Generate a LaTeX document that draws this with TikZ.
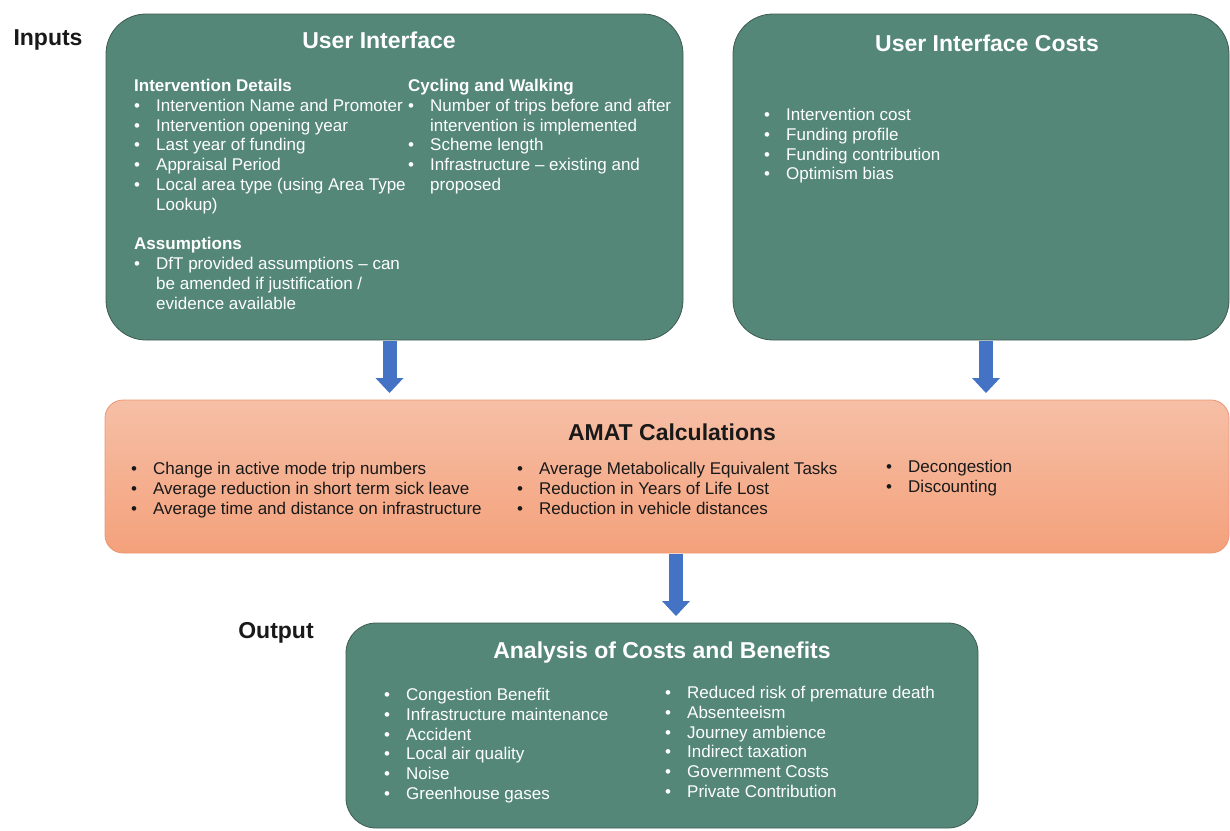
\documentclass[tikz,border=0pt]{standalone}
\usepackage{fontspec}
\setmainfont{Liberation Sans}
\usepackage{xcolor}
\usepackage{tikz}
\usetikzlibrary{arrows.meta}

\definecolor{boxgreen}{RGB}{84,135,119}
\definecolor{boxedge}{RGB}{62,92,82}
\definecolor{calctop}{RGB}{246,191,166}
\definecolor{calcbot}{RGB}{244,161,123}
\definecolor{calcedge}{RGB}{234,150,116}
\definecolor{flowblue}{RGB}{68,114,196}

\newcommand{\itm}[1]{\makebox[22pt][l]{\textbullet}#1}
\newcommand{\cnt}[1]{\hspace*{22pt}#1}

\begin{document}
\begin{tikzpicture}[x=1pt, y=-1pt,
  greenbox/.style={draw=boxedge, line width=0.8pt, fill=boxgreen, inner sep=0pt, outer sep=0pt},
  calcbox/.style={draw=calcedge, line width=0.8pt, top color=calctop, bottom color=calcbot,
    rounded corners=18pt, inner sep=0pt, outer sep=0pt},
  title/.style={font=\bfseries\fontsize{23}{27}\selectfont},
  label/.style={font=\bfseries\fontsize{23}{27}\selectfont, text=black!90},
  txt/.style={font=\fontsize{17}{19.8}\selectfont, align=left, inner sep=0pt, anchor=north west},
  flow/.style={draw=flowblue, line width=14pt, -{Triangle[width=28pt,length=15pt,line width=0pt]},
    shorten <=1pt, shorten >=7pt}]
  \useasboundingbox (0,0) rectangle (1230,830);

  \node[greenbox, rounded corners=40pt, minimum width=577pt, minimum height=326pt] (ui) at (394.5,177) {}; %
  \node[greenbox, rounded corners=40pt, minimum width=496pt, minimum height=326pt] (uicost) at (981,177) {}; %
  \node[calcbox, minimum width=1124pt, minimum height=153pt] (amat) at (667,476.5) {}; %
  \node[greenbox, rounded corners=30pt, minimum width=632pt, minimum height=205pt] (out) at (662,725.5) {}; %

  \node[label] (inputs) at (48,40) {Inputs}; %
  \node[label] (output) at (276,633) {Output}; %

  \node[title, text=white] (uititle) at (379,40) {User Interface}; %
  \node[title, text=white] (uicosttitle) at (987,43) {User Interface Costs}; %
  \node[title, text=black!90] (amattitle) at (672,432) {AMAT Calculations}; %
  \node[title, text=white] (outtitle) at (662,653) {Analysis of Costs and Benefits}; %

  \node[txt, text=white] (uidetails) at (134,79) {%
    \textbf{Intervention Details}\\
    \itm{Intervention Name and Promoter}\\
    \itm{Intervention opening year}\\
    \itm{Last year of funding}\\
    \itm{Appraisal Period}\\
    \itm{Local area type (using Area Type}\\
    \cnt{Lookup)}\\
    \mbox{}\\
    \textbf{Assumptions}\\
    \itm{DfT provided assumptions -- can}\\
    \cnt{be amended if justification /}\\
    \cnt{evidence available}}; %
  \node[txt, text=white] (uicycle) at (408,79) {%
    \textbf{Cycling and Walking}\\
    \itm{Number of trips before and after}\\
    \cnt{intervention is implemented}\\
    \itm{Scheme length}\\
    \itm{Infrastructure -- existing and}\\
    \cnt{proposed}}; %
  \node[txt, text=white] (uicostlist) at (764,108) {%
    \itm{Intervention cost}\\
    \itm{Funding profile}\\
    \itm{Funding contribution}\\
    \itm{Optimism bias}}; %

  \node[txt, text=black!90] (amatone) at (131,462) {%
    \itm{Change in active mode trip numbers}\\
    \itm{Average reduction in short term sick leave}\\
    \itm{Average time and distance on infrastructure}}; %
  \node[txt, text=black!90] (amattwo) at (517,462) {%
    \itm{Average Metabolically Equivalent Tasks}\\
    \itm{Reduction in Years of Life Lost}\\
    \itm{Reduction in vehicle distances}}; %
  \node[txt, text=black!90] (amatthree) at (886,460) {%
    \itm{Decongestion}\\
    \itm{Discounting}}; %

  \node[txt, text=white] (outone) at (384,688) {%
    \itm{Congestion Benefit}\\
    \itm{Infrastructure maintenance}\\
    \itm{Accident}\\
    \itm{Local air quality}\\
    \itm{Noise}\\
    \itm{Greenhouse gases}}; %
  \node[txt, text=white] (outtwo) at (665,686) {%
    \itm{Reduced risk of premature death}\\
    \itm{Absenteeism}\\
    \itm{Journey ambience}\\
    \itm{Indirect taxation}\\
    \itm{Government Costs}\\
    \itm{Private Contribution}}; %

  \draw[flow] ([xshift=-5pt]ui.south) -- ([xshift=-5pt]ui.south |- amat.north);
  \draw[flow] ([xshift=5pt]uicost.south) -- ([xshift=5pt]uicost.south |- amat.north);
  \draw[flow] ([xshift=14pt]out.north |- amat.south) -- ([xshift=14pt]out.north);

\end{tikzpicture}
\end{document}
